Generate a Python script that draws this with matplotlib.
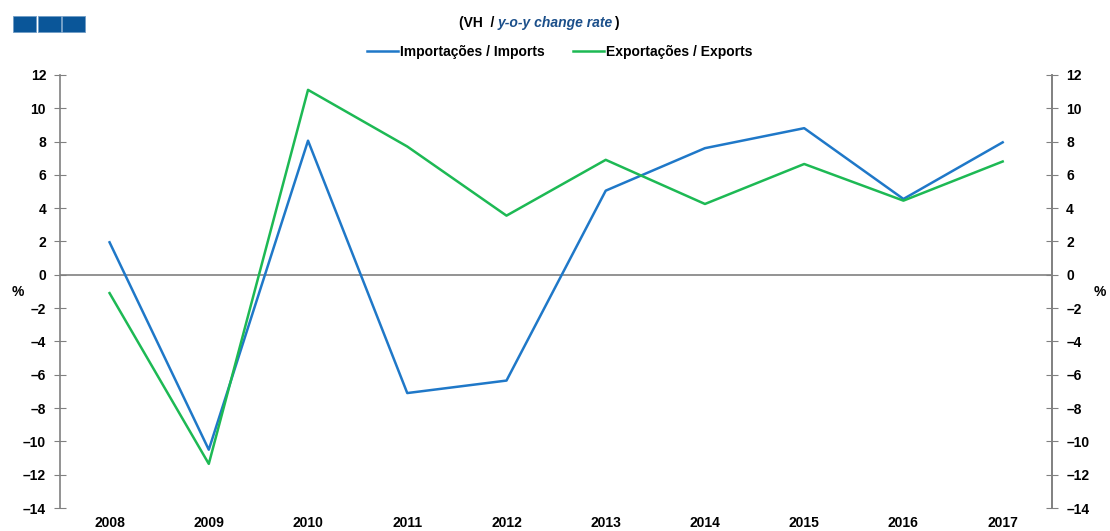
import matplotlib.pyplot as plt
from matplotlib.patches import Rectangle

plt.rcParams['font.family'] = ['Liberation Sans', 'DejaVu Sans']
plt.rcParams['font.weight'] = 'bold'

years = [2008, 2009, 2010, 2011, 2012, 2013, 2014, 2015, 2016, 2017]
imports = [1.95, -10.5, 8.05, -7.1, -6.35, 5.05, 7.6, 8.8, 4.55, 7.95]
exports = [-1.1, -11.35, 11.1, 7.7, 3.55, 6.9, 4.25, 6.65, 4.45, 6.8]
yticks = list(range(-14, 13, 2))

blue = "#1f78c8"
green = "#1db954"
grey = "#808080"

fig = plt.figure(figsize=(11.1, 5.31), dpi=100)
ax = fig.add_axes([0.054, 0.0433, 0.894, 0.8157])

x = list(range(len(years)))
ax.plot(x, imports, color=blue, lw=1.8, label="Importações / Imports")
ax.plot(x, exports, color=green, lw=1.8, label="Exportações / Exports")
ax.axhline(0, color=grey, lw=1.2, zorder=0)

ax.set_xlim(-0.5, len(years) - 0.5)
ax.set_ylim(-14, 12)
ax.set_yticks(yticks)
ax.set_yticklabels([str(v).replace("-", "\u2013") for v in yticks], fontsize=10, fontweight='bold')
ax.tick_params(axis='y', direction='inout', length=8, color=grey, pad=6)
ax.set_xticks(x)
ax.set_xticklabels([str(y) for y in years], fontsize=10, fontweight='bold')
ax.tick_params(axis='x', length=0, pad=6)
for s in ['top', 'bottom']:
    ax.spines[s].set_visible(False)
for s in ['left', 'right']:
    ax.spines[s].set_color(grey)
    ax.spines[s].set_linewidth(1.2)

ax2 = ax.twinx()
ax2.set_ylim(-14, 12)
ax2.set_yticks(yticks)
ax2.set_yticklabels([str(v).replace("-", "\u2013") for v in yticks], fontsize=10, fontweight='bold')
ax2.tick_params(axis='y', direction='inout', length=8, color=grey, pad=6)
for s in ['top', 'bottom', 'left']:
    ax2.spines[s].set_visible(False)
ax2.spines['right'].set_color(grey)
ax2.spines['right'].set_linewidth(1.2)

fig.text(18 / 1110, 1 - 292 / 531, "%", fontsize=10, fontweight='bold', ha='center', va='center')
fig.text(1100 / 1110, 1 - 292 / 531, "%", fontsize=10, fontweight='bold', ha='center', va='center')

# title in pieces
ty = 1 - 23 / 531
fig.text(498 / 1110, ty, "(VH  / ", fontsize=10, fontweight='bold', ha='right', va='center')
t2 = fig.text(498 / 1110, ty, "y-o-y change rate", fontsize=10, fontweight='bold',
              style='italic', color="#1b4f8a", ha='left', va='center')
fig.canvas.draw()
ext = t2.get_window_extent()
fig.text(ext.x1 / fig.bbox.width + 0.001, ty, ")", fontsize=10, fontweight='bold', va='center', ha='left')

# legend
fig.legend(loc='center', bbox_to_anchor=(560 / 1110, 1 - 52 / 531), ncol=2, frameon=False,
           prop={'weight': 'bold', 'size': 10}, handlelength=2.2, columnspacing=2.0,
           handletextpad=0.2)

# three blue squares top-left
for i in range(3):
    fig.patches.append(Rectangle(((13 + i * 24.5) / 1110, 1 - 32 / 531), 23 / 1110, 16 / 531,
                                 transform=fig.transFigure, facecolor="#0a5699",
                                 edgecolor="#6f9cc6", lw=0.6))

fig.savefig("out.png", dpi=100)
